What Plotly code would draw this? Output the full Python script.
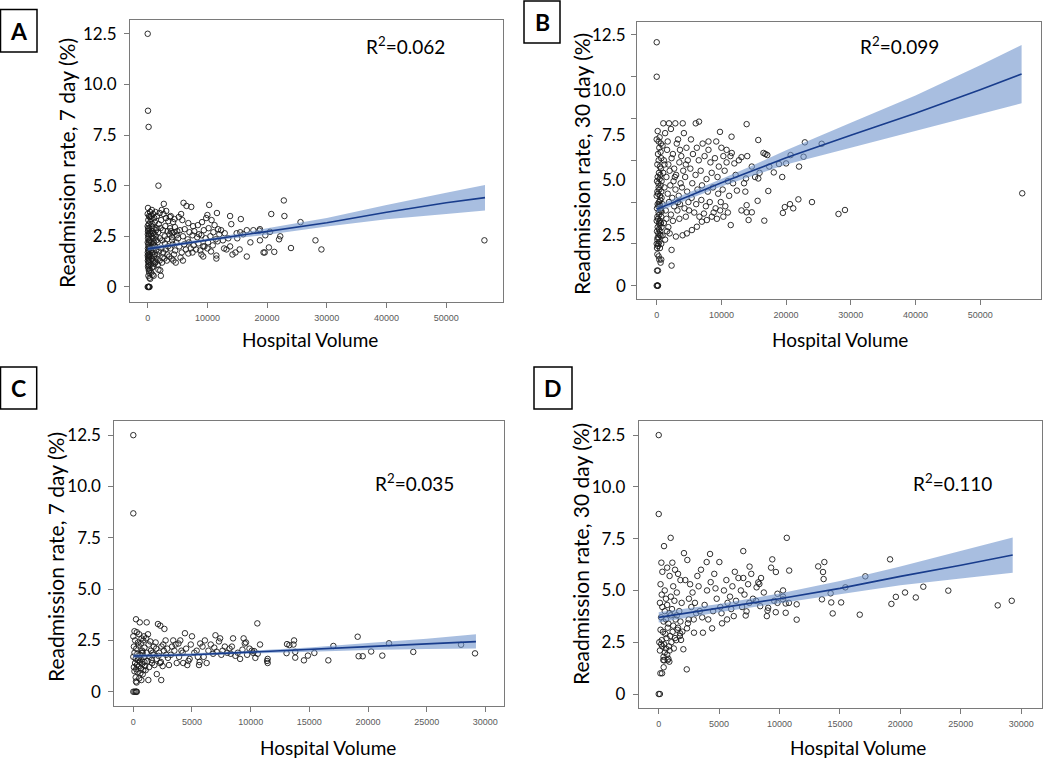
import plotly.graph_objects as go

# ---------------- data ----------------
a_points = [
    (0, 12.5), (50, 8.7), (150, 7.9), (56400, 2.3), (1800, 5.0), (22800, 4.27), (22900, 3.5), (20700, 3.6),
    (25600, 3.2), (28100, 2.3), (29100, 1.85), (24000, 1.92),
    (0, 0), (100, 0), (200, 0), (300, 0), (150, 0), (250, 0),
    (0, 3.6), (50, 3.9), (100, 3.3), (0, 3.0), (80, 2.9), (120, 2.8), (30, 2.6), (150, 2.5), (60, 2.4), (200, 2.3),
    (10, 2.2), (90, 2.1), (180, 2.0), (40, 1.9), (130, 1.8), (250, 1.75), (20, 1.7), (110, 1.6), (220, 1.5), (70, 1.45),
    (160, 1.4), (30, 1.3), (190, 1.2), (100, 1.1), (240, 1.05), (60, 1.0), (150, 0.9), (200, 0.8), (280, 0.7), (120, 0.55),
    (300, 0.45), (220, 2.6), (260, 2.2), (280, 1.9), (300, 1.6), (50, 2.75), (170, 3.1), (230, 3.5), (290, 2.9), (10, 1.55),
    (140, 1.25), (260, 1.35),
    (400, 3.7), (550, 3.5), (700, 3.8), (900, 3.6), (1100, 3.4), (1300, 3.7), (450, 3.2), (650, 3.0), (800, 3.1), (1000, 2.9),
    (1200, 3.2), (1400, 2.8), (350, 2.7), (500, 2.6), (750, 2.5), (950, 2.4), (1150, 2.6), (1350, 2.5), (420, 2.3), (600, 2.2),
    (850, 2.1), (1050, 2.2), (1250, 2.0), (1450, 2.3), (380, 1.9), (560, 1.8), (780, 1.7), (980, 1.9), (1180, 1.6), (1380, 1.8),
    (480, 1.5), (680, 1.4), (880, 1.3), (1080, 1.5), (1280, 1.2), (1480, 1.4), (520, 1.1), (720, 0.95), (920, 1.0), (1120, 1.15),
    (1320, 1.25), (360, 0.85), (600, 0.7), (820, 0.6), (1000, 0.55), (420, 0.4), (700, 2.75), (1100, 2.05), (900, 2.65),
    (1500, 2.9), (330, 3.45), (620, 3.35),
    (1800, 0.85), (2200, 0.55), (2100, 0.82), (1700, 1.1), (2000, 1.3), (2400, 1.2), (2800, 1.4), (3200, 1.3), (3600, 1.5),
    (4000, 1.4), (4400, 1.6), (4700, 1.2), (4300, 1.3), (1600, 1.6), (1900, 1.75), (2300, 1.9), (2600, 1.7), (3000, 1.85),
    (3400, 2.0), (3800, 1.9), (4200, 2.1), (4600, 1.8), (1650, 2.2), (2050, 2.4), (2450, 2.3), (2850, 2.5), (3250, 2.35),
    (3650, 2.6), (4050, 2.45), (4450, 2.7), (4850, 2.55), (1750, 2.7), (2150, 2.9), (2550, 2.8), (2950, 3.0), (3350, 2.75),
    (3750, 2.9), (4150, 2.65), (4550, 2.95), (4950, 2.75), (1850, 3.1), (2250, 3.3), (2650, 3.6), (3050, 3.4), (3450, 3.25),
    (3850, 3.5), (4250, 3.2), (2700, 4.1), (2350, 3.8), (3100, 3.75), (3700, 3.45), (4500, 3.35), (1550, 3.5), (2000, 3.65),
    (4800, 2.2), (4100, 2.3), (3300, 1.6), (2500, 1.45), (3900, 2.75), (2900, 2.15),
    (5200, 3.45), (5600, 3.6), (6000, 4.15), (6500, 4.0), (7300, 3.95), (5800, 3.3), (6800, 3.15), (7600, 3.0), (8400, 3.05),
    (9100, 3.2), (9800, 3.4), (10300, 4.05), (10700, 3.3), (11200, 3.05), (11600, 3.65), (10000, 3.55), (5400, 2.8),
    (6200, 2.85), (7000, 2.7), (7800, 2.75), (8600, 2.6), (9400, 2.8), (10200, 2.9), (11000, 2.7), (11800, 2.85), (5100, 2.4),
    (5900, 2.5), (6700, 2.35), (7500, 2.55), (8300, 2.45), (9000, 2.55), (9700, 2.4), (10500, 2.5), (11400, 2.35), (5300, 2.0),
    (6100, 2.1), (6900, 2.2), (7700, 2.05), (8500, 2.15), (9300, 2.0), (10100, 2.2), (10900, 2.05), (11700, 2.25), (5500, 1.45),
    (5900, 1.3), (6800, 1.65), (7500, 1.7), (8100, 1.85), (9000, 1.6), (9300, 1.5), (9500, 2.0), (10000, 1.9), (11500, 1.4),
    (11500, 1.55), (6400, 1.85), (7200, 1.9), (8800, 1.8), (10600, 1.75), (5700, 1.7), (12000, 2.6),
    (12300, 2.8), (12900, 2.65), (13200, 1.85), (13800, 2.0), (13800, 3.5), (14000, 3.1), (14200, 1.6), (14700, 1.7),
    (14900, 2.65), (15400, 1.85), (15500, 2.7), (15600, 3.35), (16600, 2.8), (16600, 1.5), (17700, 2.8), (18800, 2.85),
    (18800, 2.3), (19400, 1.7), (19600, 1.7), (19700, 2.55), (20300, 1.95), (18700, 2.78), (12600, 2.3), (13500, 2.4),
    (16000, 2.6), (17200, 2.2), (12800, 1.9), (15000, 2.4),
    (20500, 2.72), (21200, 1.73), (22200, 2.5), (22000, 2.35),
]

b_points = [
    (0, 11.65), (0, 10.0), (56500, 4.42), (28100, 3.43), (29100, 3.62), (25500, 6.79), (22900, 6.86), (24000, 4.0),
    (21900, 4.13), (22700, 6.17), (22000, 5.7),
    (0, 0), (100, 0), (200, 0), (150, 0),
    (50, 0.72), (200, 0.72), (400, 1.25), (700, 1.25), (2300, 0.96), (2300, 1.71), (100, 1.5), (300, 1.4), (600, 1.1),
    (0, 2.0), (100, 2.2), (200, 1.9), (300, 2.3), (400, 2.1), (500, 1.8), (600, 2.4), (700, 2.0), (50, 2.6), (150, 2.8),
    (250, 2.5), (350, 2.7), (450, 2.9), (550, 2.6), (650, 3.0), (750, 2.8), (0, 3.1), (100, 3.3), (200, 3.2), (300, 3.5),
    (400, 3.4), (500, 3.1), (600, 3.6), (700, 3.3), (50, 3.7), (150, 3.9), (250, 3.8), (350, 4.0), (450, 3.9), (550, 4.1),
    (650, 3.7), (750, 4.2), (0, 4.3), (100, 4.5), (200, 4.4), (300, 4.7), (400, 4.6), (500, 4.3), (600, 4.8), (700, 4.5),
    (50, 5.0), (150, 5.2), (250, 4.9), (350, 5.4), (450, 5.1), (550, 5.3), (650, 5.6), (750, 5.0), (100, 5.8), (300, 6.0),
    (500, 5.7), (700, 6.1), (200, 6.3), (400, 6.6), (600, 6.4), (0, 7.0), (150, 7.4), (300, 6.9), (450, 7.1), (650, 6.8),
    (250, 2.0), (450, 2.45), (50, 1.8), (150, 2.3), (350, 3.0), (550, 3.8), (750, 3.55),
    (1020, 7.77), (1900, 7.77), (2880, 7.77), (4020, 7.77), (1300, 7.3), (2200, 7.5), (3300, 7.0), (4200, 7.3), (900, 6.7),
    (1600, 6.5), (2500, 6.3), (3100, 6.8), (3800, 6.2), (4600, 6.6), (1100, 6.0), (1800, 5.8), (2300, 6.1), (2700, 5.6),
    (3500, 5.9), (4100, 5.5), (4800, 6.0), (1000, 5.4), (1500, 5.2), (2000, 5.5), (2600, 5.0), (3000, 5.3), (3700, 4.9),
    (4400, 5.2), (1200, 4.7), (1700, 4.4), (2100, 4.8), (2400, 4.2), (2900, 4.6), (3400, 4.3), (3900, 4.7), (4700, 4.5),
    (900, 3.9), (1400, 3.6), (1900, 4.0), (2200, 3.4), (2700, 3.8), (3200, 3.6), (3600, 3.9), (4300, 3.7), (4900, 4.0),
    (1100, 3.0), (1500, 3.2), (1800, 2.8), (2000, 2.5), (2500, 3.1), (2970, 2.35), (3500, 3.2), (4000, 2.41), (4500, 3.3),
    (1300, 2.2), (1600, 2.6), (900, 2.4), (4660, 2.5), (1200, 5.8), (2800, 5.2), (3300, 4.0), (4500, 5.8), (1700, 6.9),
    (3600, 6.5),
    (6030, 7.77), (6540, 7.85), (9780, 7.36), (5300, 7.0), (7100, 6.8), (8000, 6.5), (9200, 6.9), (5600, 6.3), (6500, 6.0),
    (7400, 6.2), (8300, 5.9), (9000, 6.1), (9600, 5.7), (5200, 5.6), (6000, 5.3), (6800, 5.5), (7700, 5.1), (8500, 5.4),
    (9400, 5.2), (5500, 4.9), (6300, 4.6), (7000, 4.8), (7900, 4.5), (8700, 4.7), (9500, 4.4), (5400, 4.2), (6100, 3.9),
    (6900, 4.1), (7600, 3.8), (8200, 4.0), (9100, 3.7), (9900, 4.0), (5440, 2.66), (6210, 2.82), (6980, 3.06), (7750, 3.14),
    (8520, 3.3), (5800, 3.5), (6600, 3.3), (7300, 3.45), (8800, 3.5), (9300, 3.2), (9800, 3.6), (5000, 3.6), (8000, 6.9),
    (6200, 6.6),
    (10300, 6.2), (10000, 6.6), (10800, 6.5), (11400, 6.2), (11600, 6.35), (12000, 5.85), (12700, 6.0), (13100, 6.15),
    (14000, 6.2), (13900, 7.73), (11570, 7.13), (15700, 6.97), (14700, 5.7), (15200, 5.2), (15700, 5.13), (15900, 5.4),
    (13800, 5.13), (13500, 4.9), (12400, 4.55), (13700, 4.5), (15600, 4.06), (13900, 3.85), (14700, 3.51), (13100, 3.6),
    (13900, 3.51), (14200, 3.14), (11440, 2.9), (10500, 5.5), (11000, 5.0), (10200, 4.6), (11200, 4.3), (10600, 3.8),
    (11000, 3.5), (10300, 3.3), (12200, 5.3), (10800, 5.9), (11800, 4.9),
    (16500, 6.35), (16800, 6.3), (17100, 6.25), (20700, 6.25), (20000, 5.85), (18900, 5.82), (19400, 5.2), (18100, 5.42),
    (17250, 4.53), (20600, 3.9), (19800, 3.76), (19500, 3.48), (21100, 3.7), (16630, 3.11), (17400, 5.7),
]

c_points = [
    (0, 12.5), (0, 8.69),
    (0, 0), (100, 0), (200, 0), (300, 0), (250, 0),
    (230, 3.53), (550, 3.38), (1140, 3.38), (100, 2.95), (0, 2.7), (300, 2.9), (500, 2.8), (700, 2.6), (900, 2.7), (150, 2.5),
    (400, 2.4), (650, 2.35), (850, 2.5), (50, 2.2), (250, 2.1), (450, 2.25), (750, 2.0), (950, 2.15), (100, 1.9), (350, 1.85),
    (600, 1.8), (800, 1.9), (0, 1.7), (200, 1.6), (500, 1.65), (700, 1.55), (900, 1.7), (150, 1.4), (300, 1.3), (550, 1.45),
    (750, 1.35), (1000, 1.25), (50, 1.2), (250, 1.1), (450, 1.25), (650, 1.15), (850, 1.05), (100, 1.0), (350, 0.95),
    (600, 0.9), (800, 0.85), (200, 0.7), (500, 0.65), (230, 0.5), (280, 0.45), (690, 0.57), (1280, 0.57), (400, 1.55),
    (700, 1.9), (950, 1.45),
    (1100, 2.6), (1300, 2.3), (1500, 2.0), (1700, 1.8), (1900, 2.4), (2100, 3.3), (2300, 3.22), (2650, 3.06), (1200, 1.5),
    (1400, 1.7), (1600, 1.4), (1800, 1.3), (2000, 1.6), (2200, 1.9), (2400, 2.2), (2600, 2.0), (2800, 1.8), (1150, 1.9),
    (1350, 1.2), (1550, 1.55), (1750, 2.2), (1950, 2.1), (2150, 1.75), (2350, 1.45), (2550, 2.3), (2750, 2.5), (2950, 1.65),
    (2280, 1.4), (2000, 0.86), (2380, 0.57), (1050, 1.05), (1250, 2.8), (1450, 2.45), (1650, 1.9), (2500, 1.25), (2900, 2.1),
    (3040, 1.3), (3300, 2.2), (3500, 2.0), (3700, 1.4), (3850, 2.35), (4000, 2.5), (4250, 1.4), (4400, 2.85), (4600, 1.3),
    (5000, 2.7), (5700, 2.35), (5900, 2.2), (6250, 1.4), (5600, 1.3), (5650, 1.45), (7000, 2.75), (7400, 2.6), (7300, 2.45),
    (8500, 2.6), (8400, 2.2), (9400, 2.6), (9500, 2.35), (10800, 2.3), (10600, 1.85), (10400, 1.65), (10200, 1.9),
    (10100, 2.0), (10300, 1.98), (10570, 3.33), (3200, 1.8), (3600, 2.3), (3900, 1.7), (4200, 1.9), (4500, 2.1), (4800, 1.6),
    (5200, 1.9), (5400, 2.0), (6000, 1.7), (6400, 2.0), (6600, 2.3), (6800, 1.85), (7100, 1.95), (7600, 2.0), (7800, 2.2),
    (8000, 1.9), (8200, 2.1), (8700, 1.75), (8900, 1.9), (9100, 1.6), (9300, 2.05), (9700, 1.8), (9900, 2.1), (3400, 2.5),
    (4100, 2.0), (4900, 2.3), (5500, 1.7), (6100, 2.5), (6900, 2.15), (7500, 1.8), (8300, 1.85), (9600, 2.4), (4700, 1.5),
    (11400, 1.5), (11450, 1.4), (11450, 1.6),
    (13100, 2.32), (13300, 2.27), (13650, 2.3), (13700, 2.5), (13060, 1.88), (13800, 1.66), (13800, 1.94), (14540, 1.53),
    (14880, 1.76), (15430, 1.89), (16620, 1.53), (17050, 2.23), (19120, 2.68), (19200, 1.73), (19550, 1.73), (20270, 1.96),
    (21220, 1.76), (21790, 2.36), (23860, 1.94), (27930, 2.29), (29120, 1.87),
]

d_points = [
    (0, 12.5), (0, 8.69), (0, 0), (100, 0),
    (990, 7.54), (440, 7.14), (10600, 7.54), (7000, 6.9), (2090, 6.8), (4250, 6.76), (2370, 6.47), (220, 6.34), (1130, 6.34),
    (5020, 6.37), (3970, 6.37), (9400, 6.5), (19150, 6.5), (13710, 6.37), (13200, 6.16), (13600, 5.89), (13650, 5.55),
    (17100, 5.68), (10800, 5.96), (9700, 5.89), (9300, 6.1), (15450, 5.15), (21900, 5.18), (23970, 4.99), (20390, 4.9),
    (19630, 4.69), (21280, 4.66), (19260, 4.35), (28060, 4.28), (29220, 4.5), (15100, 4.42), (14280, 4.42), (14230, 4.86),
    (13510, 4.57), (14400, 3.89), (16640, 3.83), (11420, 3.59), (11420, 4.33), (10510, 3.92), (10510, 4.37), (10780, 4.4),
    (10290, 5.0), (10290, 4.7), (10290, 4.57), (9830, 4.84), (9830, 4.4), (9560, 4.5), (9690, 3.95), (9010, 4.03),
    (8950, 3.76), (9060, 4.16), (8470, 5.6), (8330, 5.31), (8100, 5.15), (8240, 5.39), (7660, 5.8), (7520, 6.15), (8060, 4.5),
    (8400, 4.24), (7270, 3.99), (7200, 3.79), (6210, 3.76), (5660, 3.6), (5240, 3.41), (4420, 3.17), (3660, 2.96),
    (2920, 2.96), (2340, 3.17), (2420, 3.41), (2480, 3.6), (2320, 1.19), (2040, 2.16), (1850, 2.61), (1770, 2.93),
    (1960, 3.01), (460, 1.62), (380, 1.64), (740, 1.63), (880, 1.56), (140, 1.0), (280, 1.0), (410, 1.29),
    (2600, 5.3), (2800, 4.9), (3200, 5.7), (3500, 6.0), (3000, 4.4), (3400, 4.0), (3800, 4.3), (4000, 5.0), (4300, 5.4),
    (4600, 5.8), (4800, 4.6), (5100, 4.2), (5400, 5.0), (5600, 5.5), (5900, 4.7), (6100, 5.2), (6400, 4.5), (6600, 5.6),
    (6800, 5.0), (7100, 4.8), (7400, 5.3), (7800, 4.6), (6900, 4.2), (5200, 3.9), (4500, 4.0), (3600, 3.7), (2700, 4.2),
    (3100, 3.9), (4100, 3.6), (6000, 4.1), (7500, 4.4), (6300, 5.9), (2200, 5.5), (2500, 4.6), (3300, 5.2), (4700, 5.1),
    (5700, 4.4), (8700, 4.9), (7000, 5.6), (2900, 3.6),
    (100, 4.4), (300, 4.2), (500, 4.0), (700, 4.3), (900, 3.9), (1100, 4.1), (1300, 4.5), (1500, 3.8), (1700, 4.0),
    (1900, 4.4), (200, 3.7), (400, 3.5), (600, 3.6), (800, 3.4), (1000, 3.8), (1200, 3.3), (1400, 3.6), (1600, 3.2),
    (1800, 3.5), (150, 3.1), (350, 3.0), (550, 2.9), (750, 3.2), (950, 2.8), (1150, 3.0), (1350, 2.7), (1550, 3.1),
    (1750, 2.8), (50, 2.5), (250, 2.6), (450, 2.4), (650, 2.7), (850, 2.3), (1050, 2.5), (1250, 2.2), (1450, 2.6),
    (100, 2.1), (300, 2.3), (500, 2.0), (700, 1.9), (900, 2.1), (200, 2.4), (400, 1.8), (600, 2.2), (800, 1.7), (300, 5.9),
    (700, 6.1), (900, 5.7), (1200, 5.2), (1500, 4.9), (1800, 5.5), (500, 5.0), (1000, 4.7), (1600, 5.8), (250, 4.8),
    (1350, 6.0), (600, 4.6), (150, 5.3),
]

# fitted curves with confidence limits
a_fit_x = [0, 5000, 10000, 15000, 20000, 30000, 40000, 50000, 56500]
a_fit_y = [1.88, 2.1, 2.32, 2.52, 2.73, 3.17, 3.69, 4.16, 4.41]
a_fit_lo = [1.78, 2.03, 2.25, 2.42, 2.57, 2.98, 3.34, 3.6, 3.77]
a_fit_hi = [1.98, 2.17, 2.39, 2.62, 2.9, 3.4, 4.05, 4.65, 5.03]

b_fit_x = [0, 5000, 10000, 15000, 20000, 30000, 40000, 50000, 56400]
b_fit_y = [3.66, 4.3, 4.92, 5.52, 6.12, 7.2, 8.25, 9.38, 10.13]
b_fit_lo = [3.5, 4.15, 4.75, 5.28, 5.8, 6.6, 7.4, 8.2, 8.73]
b_fit_hi = [3.82, 4.45, 5.1, 5.78, 6.48, 7.8, 9.1, 10.55, 11.52]

c_fit_x = [0, 2500, 5000, 10000, 15000, 20000, 25000, 29200]
c_fit_y = [1.74, 1.76, 1.8, 1.93, 2.05, 2.2, 2.33, 2.44]
c_fit_lo = [1.64, 1.68, 1.74, 1.86, 1.95, 2.03, 2.08, 2.11]
c_fit_hi = [1.84, 1.84, 1.87, 2.0, 2.15, 2.37, 2.58, 2.8]

d_fit_x = [0, 5000, 10000, 15000, 20000, 25000, 29300]
d_fit_y = [3.7, 4.15, 4.6, 5.1, 5.68, 6.22, 6.71]
d_fit_lo = [3.45, 3.95, 4.38, 4.8, 5.25, 5.58, 5.85]
d_fit_hi = [3.95, 4.35, 4.85, 5.45, 6.15, 6.9, 7.56]

r2_text = ["R<sup>2</sup>=0.062", "R<sup>2</sup>=0.099", "R<sup>2</sup>=0.035", "R<sup>2</sup>=0.110"]
panel_letters = ["A", "B", "C", "D"]
y_titles = ["Readmission rate, 7 day (%)", "Readmission rate, 30 day (%)",
            "Readmission rate, 7 day (%)", "Readmission rate, 30 day (%)"]
x_title = "Hospital Volume"

y_tickvals = [0, 2.5, 5, 7.5, 10, 12.5]
y_ticktext = ["0", "2.5", "5.0", "7.5", "10.0", "12.5"]
b_y_tickvals = [0, 2, 4, 6, 8, 10, 12]
b_label_text = ["0", "2.5", "5.0", "7.5", "10.0", "12.5"]
b_label_pos = [0.0, 2.44, 5.07, 7.22, 9.38, 12.0]
x_ticks_wide = [0, 10000, 20000, 30000, 40000, 50000]
x_ticks_narrow = [0, 5000, 10000, 15000, 20000, 25000, 30000]

# ---------------- layout geometry ----------------
W, H = 1050, 759
panels = [
    dict(pts=a_points, fx=a_fit_x, fy=a_fit_y, lo=a_fit_lo, hi=a_fit_hi,
         frame=(130, 503, 20, 301.7), xr=[-2965, 59514], yr=[-0.73, 13.18], xt=x_ticks_wide),
    dict(pts=b_points, fx=b_fit_x, fy=b_fit_y, lo=b_fit_lo, hi=b_fit_hi,
         frame=(637.3, 1041, 22, 299), xr=[-3000, 59400], yr=[-0.64, 12.62], xt=x_ticks_wide),
    dict(pts=c_points, fx=c_fit_x, fy=c_fit_y, lo=c_fit_lo, hi=c_fit_hi,
         frame=(114.3, 504, 421, 705.7), xr=[-1620, 31590], yr=[-0.68, 13.19], xt=x_ticks_narrow),
    dict(pts=d_points, fx=d_fit_x, fy=d_fit_y, lo=d_fit_lo, hi=d_fit_hi,
         frame=(638.7, 1041.7, 421, 708.3), xr=[-1656, 31700], yr=[-0.69, 13.18], xt=x_ticks_narrow),
]

FONT = "Lato"
GRAY = "#7a7a7a"
fig = go.Figure()
layout = dict(width=W, height=H, margin=dict(l=0, r=0, t=0, b=0), autosize=False,
              plot_bgcolor="white", paper_bgcolor="white", showlegend=False,
              font=dict(family=FONT, color="black"))

for i, p in enumerate(panels):
    n = i + 1
    xa = "x" if n == 1 else f"x{n}"
    ya = "y" if n == 1 else f"y{n}"
    l, r, t, b = p["frame"]
    xs = [q[0] for q in p["pts"]]
    ys = [q[1] for q in p["pts"]]
    fig.add_trace(go.Scatter(x=xs, y=ys, mode="markers", xaxis=xa, yaxis=ya,
                             marker=dict(symbol="circle-open", size=5.5, color="rgba(25,25,25,0.9)",
                                         line=dict(width=1, color="rgba(25,25,25,0.9)"))))
    fig.add_trace(go.Scatter(x=p["fx"], y=p["lo"], mode="lines", xaxis=xa, yaxis=ya,
                             line=dict(width=0, color="rgba(0,0,0,0)"), hoverinfo="skip"))
    fig.add_trace(go.Scatter(x=p["fx"], y=p["hi"], mode="lines", xaxis=xa, yaxis=ya, fill="tonexty",
                             fillcolor="rgba(110,146,204,0.6)",
                             line=dict(width=0, color="rgba(0,0,0,0)"), hoverinfo="skip"))
    fig.add_trace(go.Scatter(x=p["fx"], y=p["fy"], mode="lines", xaxis=xa, yaxis=ya,
                             line=dict(width=1.6, color="#183c8c")))

    xkey = "xaxis" if n == 1 else f"xaxis{n}"
    ykey = "yaxis" if n == 1 else f"yaxis{n}"
    layout[xkey] = dict(domain=[l / W, r / W], range=p["xr"], anchor=ya,
                        showline=True, mirror=True, linecolor=GRAY, linewidth=1,
                        ticks="outside", ticklen=5, tickcolor=GRAY, tickwidth=1,
                        showgrid=False, zeroline=False, tickvals=p["xt"],
                        ticktext=[str(v) for v in p["xt"]], ticklabelstandoff=2,
                        tickfont=dict(family="Liberation Sans", size=9, color="#5a5a5a"))
    ydict = dict(domain=[1 - b / H, 1 - t / H], range=p["yr"], anchor=xa,
                 showline=True, mirror=True, linecolor=GRAY, linewidth=1,
                 ticks="outside", ticklen=5, tickcolor=GRAY, tickwidth=1,
                 showgrid=False, zeroline=False,
                 tickfont=dict(family=FONT, size=17, color="black"))
    if n == 2:
        ydict.update(tickvals=b_y_tickvals, showticklabels=False)
    else:
        ydict.update(tickvals=y_tickvals, ticktext=y_ticktext, ticklabelstandoff=4)
    layout[ykey] = ydict

fig.update_layout(**layout)

annotations = []
shapes = []
# panel B tick labels, placed as in the reference
b_label_right = 628
for txt, pos in zip(b_label_text, b_label_pos):
    annotations.append(dict(text=txt, x=b_label_right / W, y=pos, xref="paper", yref="y2",
                            showarrow=False, xanchor="right", yanchor="middle",
                            font=dict(family=FONT, size=17, color="black")))

# axis titles / R^2 / panel letters (pixel positions in the figure)
xt_pos = [(310, 340), (840, 340), (328, 747), (858, 747)]
yt_pos = [(67, 163), (581, 164), (55, 557), (580, 554)]
r2_pos = [(405, 46), (899, 46), (414, 482), (952, 482)]
box_pos = [(0.5, 9.5, 37, 52), (524, 1, 560, 43), (0.5, 367, 36.7, 409), (534, 367, 572, 409)]

for i in range(4):
    annotations.append(dict(text=x_title, x=xt_pos[i][0] / W, y=1 - xt_pos[i][1] / H, xref="paper", yref="paper",
                            showarrow=False, xanchor="center", yanchor="middle",
                            font=dict(family=FONT, size=19, color="black")))
    annotations.append(dict(text=y_titles[i], x=yt_pos[i][0] / W, y=1 - yt_pos[i][1] / H, xref="paper", yref="paper",
                            showarrow=False, textangle=-90, xanchor="center", yanchor="middle",
                            font=dict(family=FONT, size=21, color="black")))
    annotations.append(dict(text=r2_text[i], x=r2_pos[i][0] / W, y=1 - r2_pos[i][1] / H, xref="paper", yref="paper",
                            showarrow=False, xanchor="center", yanchor="middle",
                            font=dict(family=FONT, size=19, color="black")))
    x0, y0, x1, y1 = box_pos[i]
    shapes.append(dict(type="rect", xref="paper", yref="paper", x0=x0 / W, x1=x1 / W,
                       y0=1 - y1 / H, y1=1 - y0 / H, line=dict(color="black", width=1.5)))
    annotations.append(dict(text=f"<b>{panel_letters[i]}</b>", x=(x0 + x1) / 2 / W, y=1 - (y0 + y1) / 2 / H,
                            xref="paper", yref="paper", showarrow=False, xanchor="center", yanchor="middle",
                            font=dict(family=FONT, size=23, color="black")))

fig.update_layout(annotations=annotations, shapes=shapes)
fig.write_html("out.html", config={"displayModeBar": False},
               post_script="document.body.style.margin='0';document.body.style.overflow='hidden';")
